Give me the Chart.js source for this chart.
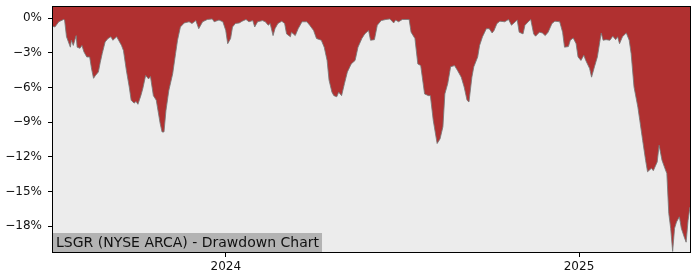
<!DOCTYPE html>
<html>
<head>
<meta charset="utf-8">
<script src="https://cdn.jsdelivr.net/npm/chart.js@4.4.1/dist/chart.umd.min.js"></script>
<style>
  html, body { margin: 0; padding: 0; background: #ffffff; }
  canvas { display: block; }
</style>
</head>
<body>
<canvas id="c" width="700" height="280"></canvas>
<script>
// Day offsets relative to 2024-01-01
const days = [
  -179,-177,-173,-168,-167,-165,-163,-161,-160,-158,-155,-154,-151,-149,-147,-144,-141,-139,-137,-135,
  -132,-130,-128,-125,-122,-119,-117,-115,-113,-111,-108,-106,-103,-100,-98,-95,-93,-91,-88,-86,
  -83,-80,-78,-75,-72,-68,-66,-64,-62,-59,-55,-52,-50,-47,-43,-38,-35,-31,-28,-24,
  -19,-14,-12,-7,-3,0,2,5,7,10,14,17,21,24,28,30,33,38,41,44,
  46,49,51,54,58,61,63,67,68,72,75,79,84,87,91,94,99,102,105,107,
  110,112,115,117,120,123,126,130,134,137,141,144,148,150,154,157,161,166,170,174,
  176,179,183,190,192,196,199,202,206,210,212,215,219,222,225,227,230,233,237,240,
  244,247,250,252,255,257,261,263,266,270,273,276,278,281,284,289,293,296,300,302,
  304,308,310,314,316,319,321,325,328,331,334,338,341,346,349,351,355,357,360,363,
  365,368,371,373,377,379,382,385,389,391,394,398,401,404,406,408,411,415,418,420,
  423,427,429,432,435,437,441,443,447,449,452,455,457,459,461,463,465,467,470,472,
  475,477,479,481
];
// Drawdown in percent
const drawdown = [
  -0.7,-0.75,-0.3,-0.1,-0.15,-1.6,-2.05,-2.5,-1.9,-2.35,-1.5,-2.5,-2.6,-2.35,-2.9,-3.35,-3.35,-4.4,-5.2,-4.95,
  -4.65,-3.8,-3.05,-2.05,-1.75,-1.6,-1.9,-1.75,-1.6,-1.9,-2.35,-2.8,-4.5,-5.95,-7.1,-7.35,-7.2,-7.45,-6.7,-6.1,
  -4.95,-5.25,-5.05,-6.7,-7.1,-9.1,-9.85,-9.85,-8.0,-6.25,-4.8,-3.05,-1.9,-0.75,-0.4,-0.3,-0.45,-0.2,-0.9,-0.3,
  -0.1,-0.05,-0.3,-0.15,-0.3,-1.05,-2.2,-1.75,-0.75,-0.45,-0.4,-0.25,-0.1,-0.3,-0.2,-0.75,-0.3,-0.2,-0.3,-0.6,
  -0.45,-1.5,-0.9,-0.45,-0.25,-0.45,-1.35,-1.6,-1.2,-1.5,-0.9,-0.3,-0.3,-0.6,-1.05,-1.75,-1.9,-2.5,-3.65,-5.35,
  -6.4,-6.7,-6.8,-6.4,-6.7,-5.65,-4.65,-3.95,-3.65,-2.5,-1.75,-1.35,-1.05,-1.9,-1.85,-0.6,-0.2,-0.1,-0.05,-0.4,
  -0.15,-0.3,-0.1,-0.1,-1.2,-1.75,-3.95,-4.1,-6.55,-6.7,-6.7,-8.85,-10.85,-10.45,-9.4,-6.55,-5.65,-4.2,-4.1,-4.5,
  -5.1,-5.95,-7.1,-7.25,-5.1,-4.2,-3.35,-2.35,-1.6,-0.9,-0.9,-1.27,-1.05,-0.45,-0.25,-0.3,-0.1,-0.6,-0.3,-0.15,
  -1.2,-1.35,-0.6,-0.25,-0.1,-1.35,-1.55,-1.2,-1.27,-1.5,-1.2,-0.45,-0.25,-0.3,-1.2,-2.5,-2.45,-1.9,-1.7,-2.2,
  -3.35,-3.65,-3.2,-3.65,-4.35,-5.1,-4.2,-3.35,-1.27,-1.9,-1.85,-1.9,-1.55,-1.85,-1.6,-2.2,-1.6,-1.27,-1.9,-3.05,
  -5.95,-7.7,-8.85,-10.6,-12.3,-13.3,-13.0,-13.2,-12.45,-11.0,-12.3,-13.0,-13.45,-16.9,-18.2,-20.2,-18.2,-17.65,-17.2,-18.2,
  -18.95,-19.4,-17.5,-16.35
];
const yTicks = [0, -3, -6, -9, -12, -15, -18];
const xTickDays = [0, 366];
const xTickLabels = ['2024', '2025'];
const titleText = 'LSGR (NYSE ARCA) - Drawdown Chart';

const FONT = '"DejaVu Sans", "Liberation Sans", sans-serif';

const framePlugin = {
  id: 'frame',
  beforeDatasetsDraw(chart) {
    const a = chart.chartArea, ctx = chart.ctx;
    ctx.save();
    ctx.fillStyle = '#ececec';
    ctx.fillRect(a.left, a.top, a.right - a.left, a.bottom - a.top);
    ctx.restore();
  },
  afterDraw(chart) {
    const a = chart.chartArea, ctx = chart.ctx;
    ctx.save();
    // title box
    ctx.font = '14px ' + FONT;
    const w = ctx.measureText(titleText).width;
    const h = 19;
    ctx.fillStyle = '#b3b3b3';
    ctx.fillRect(a.left, a.bottom - h, w + 6, h);
    ctx.fillStyle = '#111';
    ctx.textBaseline = 'middle';
    ctx.textAlign = 'left';
    ctx.fillText(titleText, a.left + 3, a.bottom - h / 2 + 0.5);
    // frame
    ctx.strokeStyle = '#000';
    ctx.lineWidth = 1;
    ctx.strokeRect(Math.round(a.left) - 0.5, Math.round(a.top) - 0.5,
                   Math.round(a.right - a.left) + 1, Math.round(a.bottom - a.top) + 1);
    ctx.restore();
  }
};

function noPad(scale) {
  scale.paddingTop = 0; scale.paddingBottom = 0;
  scale.paddingLeft = 0; scale.paddingRight = 0;
}

new Chart(document.getElementById('c'), {
  type: 'line',
  data: {
    datasets: [{
      data: days.map((d, i) => ({ x: d, y: drawdown[i] })),
      fill: 'end',
      backgroundColor: '#b03030',
      borderColor: 'rgba(120,120,120,0.85)',
      borderWidth: 1,
      pointRadius: 0,
      tension: 0
    }]
  },
  options: {
    responsive: false,
    animation: false,
    devicePixelRatio: 1,
    layout: { padding: { left: 0, top: 7, right: 10, bottom: 0 } },
    plugins: { legend: { display: false }, tooltip: { enabled: false }, title: { display: false } },
    scales: {
      x: {
        type: 'linear',
        min: -179,
        max: 481,
        afterBuildTicks(scale) { scale.ticks = xTickDays.map(v => ({ value: v })); },
        afterFit(scale) { scale.height = 28; noPad(scale); },
        ticks: {
          autoSkip: false,
          maxRotation: 0,
          padding: 3,
          color: '#111',
          font: { family: FONT, size: 12 },
          callback: (v) => { const i = xTickDays.indexOf(v); return i >= 0 ? xTickLabels[i] : ''; }
        },
        grid: { display: true, drawOnChartArea: false, drawTicks: true, tickLength: 5, color: '#000' },
        border: { display: false }
      },
      y: {
        min: -20.25,
        max: 0.98,
        afterBuildTicks(scale) { scale.ticks = yTicks.map(v => ({ value: v })); },
        afterFit(scale) { scale.width = 53; noPad(scale); },
        ticks: {
          autoSkip: false,
          padding: 6,
          color: '#111',
          font: { family: FONT, size: 12 },
          callback: (v) => (v < 0 ? '\u2212' : '') + Math.abs(v) + '%'
        },
        grid: { display: true, drawOnChartArea: false, drawTicks: true, tickLength: 5, color: '#000' },
        border: { display: false }
      }
    }
  },
  plugins: [framePlugin]
});
</script>
</body>
</html>
